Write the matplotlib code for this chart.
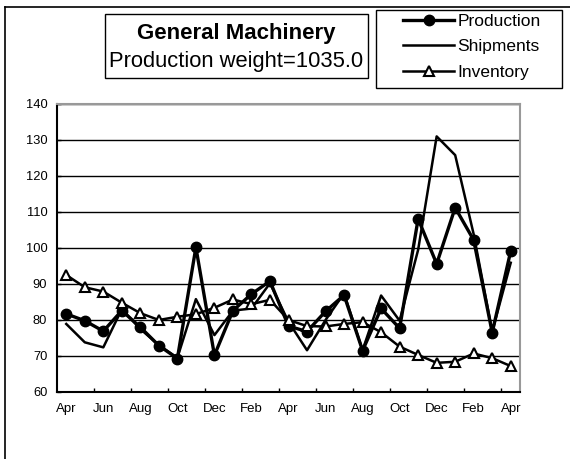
import numpy as np
import matplotlib
matplotlib.use("Agg")
import matplotlib.pyplot as plt
from matplotlib.lines import Line2D
from matplotlib.patches import Rectangle

plt.rcParams['font.family'] = ['Liberation Sans', 'DejaVu Sans']

## datos ##
meses = ["Apr", "May", "Jun", "Jul", "Aug", "Sep", "Oct", "Nov", "Dec", "Jan", "Feb", "Mar",
         "Apr", "May", "Jun", "Jul", "Aug", "Sep", "Oct", "Nov", "Dec", "Jan", "Feb", "Mar", "Apr"]
production = [81.7, 79.8, 76.9, 82.6, 78.0, 72.9, 69.3, 100.2, 70.2, 82.6, 87.2, 90.8,
              78.3, 76.8, 82.4, 86.9, 71.5, 83.2, 77.7, 108.1, 95.6, 111.2, 102.2, 76.5, 99.2]
shipments = [78.9, 73.8, 72.4, 83.0, 77.5, 73.0, 69.5, 85.8, 75.8, 82.6, 83.2, 90.2,
             79.5, 71.6, 80.0, 87.4, 71.6, 86.8, 79.8, 99.5, 131.0, 125.8, 103.8, 76.8, 95.9]
inventory = [92.5, 89.1, 87.9, 84.8, 81.9, 80.0, 80.9, 81.6, 83.4, 85.7, 84.4, 85.6,
             80.0, 78.3, 78.2, 78.9, 79.4, 76.6, 72.6, 70.3, 68.1, 68.4, 70.7, 69.4, 67.2]
titulo = "General Machinery"
subtitulo = "Production weight=1035.0"

W, H = 570, 459
fig = plt.figure(figsize=(W / 100, H / 100), dpi=100)

## marco exterior (solo izquierda y arriba visibles) ##
fig.add_artist(Line2D([5 / W, 5 / W], [0, 1 - 7 / H], transform=fig.transFigure, color="black", lw=1.2))
fig.add_artist(Line2D([5 / W, 1], [1 - 7 / H, 1 - 7 / H], transform=fig.transFigure, color="black", lw=1.2))

## area del grafico ##
x0, x1, y0, y1 = 57, 520, 104, 392
ax = fig.add_axes([x0 / W, 1 - y1 / H, (x1 - x0) / W, (y1 - y0) / H])
x = np.arange(len(meses))

ax.plot(x, production, color="black", lw=2.4, marker="o", ms=7.5, mfc="black", mec="black", label="Production", zorder=3)
ax.plot(x, shipments, color="black", lw=1.8, label="Shipments", zorder=3)
ax.plot(x, inventory, color="black", lw=1.8, marker="^", ms=7, mfc="white", mec="black", mew=1.5, label="Inventory", zorder=4)

ax.set_xlim(-0.5, len(meses) - 0.5)
ax.set_ylim(60, 140)
ax.set_yticks(np.arange(60, 141, 10))
ax.yaxis.grid(True, color="black", lw=1)
ax.set_axisbelow(True)

ax.set_xticks(x[::2])
ax.set_xticklabels(meses[::2])
ax.set_xticks(np.arange(1.5, len(meses), 2), minor=True)
ax.tick_params(axis="x", which="major", length=0, pad=8, labelsize=9.5)
ax.tick_params(axis="x", which="minor", direction="in", length=3, width=1)
ax.tick_params(axis="y", direction="in", length=3, width=1, pad=7, labelsize=9.3)

for s in ["left", "bottom"]:
    ax.spines[s].set_color("black")
    ax.spines[s].set_linewidth(1.5)
for s in ["top", "right"]:
    ax.spines[s].set_color("#999999")
    ax.spines[s].set_linewidth(1.5)

## caja del titulo ##
fig.add_artist(Rectangle((105 / W, 1 - 78 / H), 263 / W, 64 / H, transform=fig.transFigure,
                         fill=False, edgecolor="black", lw=1))
fig.text(236.5 / W, 1 - 33 / H, titulo, ha="center", va="center", fontsize=16, fontweight="bold")
fig.text(236.5 / W, 1 - 62 / H, subtitulo, ha="center", va="center", fontsize=15.8)

## leyenda (caja dibujada aparte) ##
fig.add_artist(Rectangle((376 / W, 1 - 88 / H), 186 / W, 78 / H, transform=fig.transFigure,
                         fill=False, edgecolor="black", lw=1))
leg = ax.legend(loc="upper left", bbox_to_anchor=(403 / W, 1 - 14 / H),
                bbox_transform=fig.transFigure, fontsize=12.5, frameon=False,
                handlelength=2.95, handletextpad=0.17, labelspacing=0.58, borderpad=0,
                borderaxespad=0)

fig.savefig("out.png", dpi=100)
